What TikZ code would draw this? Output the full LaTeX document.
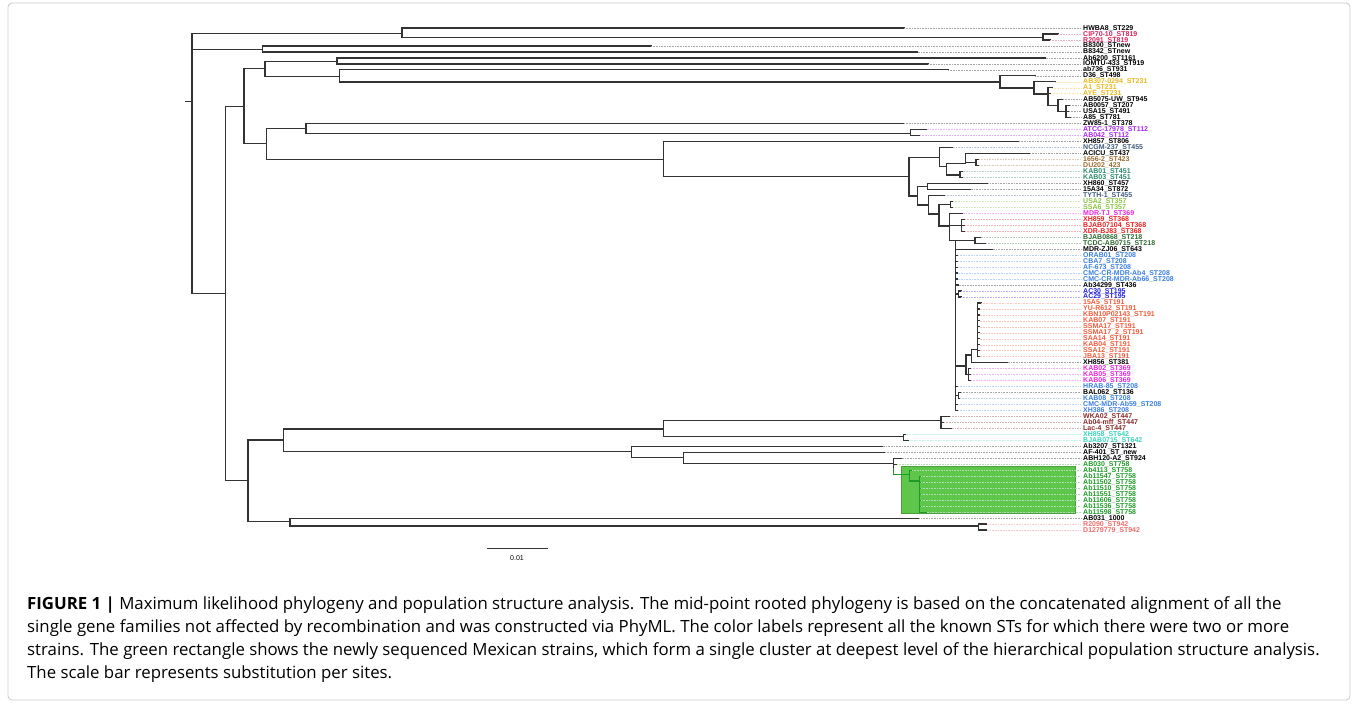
\documentclass[tikz,border=0pt]{standalone}
\usepackage{fontspec}
\setmainfont{Liberation Sans}
\newfontfamily\capfont{Open Sans}
\usetikzlibrary{positioning}
\definecolor{treeline}{HTML}{333333}
\definecolor{framegray}{HTML}{C8C8C8}
\definecolor{boxgreen}{HTML}{5EC64A}
\definecolor{stcrim}{HTML}{D8245C}
\definecolor{stgold}{HTML}{E8B81E}
\definecolor{stpurp}{HTML}{A825F0}
\definecolor{stslate}{HTML}{3F5B7C}
\definecolor{stbrown}{HTML}{9A6A2E}
\definecolor{stteal}{HTML}{2B8A68}
\definecolor{stlime}{HTML}{88C540}
\definecolor{stmag}{HTML}{EC22DC}
\definecolor{stred}{HTML}{EE1E1E}
\definecolor{stdkgrn}{HTML}{2E6A30}
\definecolor{stblue}{HTML}{3A7EE0}
\definecolor{stnavy}{HTML}{2222DD}
\definecolor{storange}{HTML}{F25A3A}
\definecolor{stmaroon}{HTML}{8C2A2A}
\definecolor{stturq}{HTML}{38D4BC}
\definecolor{stgreen}{HTML}{1E9A28}
\definecolor{stsalmon}{HTML}{EE6C6C}
\tikzset{
  branch/.style={draw=treeline, line width=1.2pt, line cap=rect},
  leader/.style={line width=0.5pt, dash pattern=on 0.8pt off 0.8pt, shorten >=2pt},
  taxon/.style={anchor=west, inner sep=0pt, font=\fontsize{7}{7}\selectfont\bfseries}}
% horizontal branch: from x, to x, at y
\newcommand{\hbr}[3]{\draw[branch] (#1,#3) -- (#2,#3);}
% vertical branch: at x, from y, to y
\newcommand{\vbr}[3]{\draw[branch] (#1,#2) -- (#1,#3);}
% leaf: name, y, parent x, tip x, colour, label
\newcommand{\leaf}[6]{%
  \node[taxon, text=#5] (#1) at (1083,#2) {#6};
  \draw[branch] (#3,#2) -- (#4,#2);
  \draw[leader, draw=#5!35!white] (#4,#2) -- (#1.west);}

\begin{document}
\begin{tikzpicture}[x=1pt,y=-1pt]
  \useasboundingbox (0,0) rectangle (1358,704);
  \draw[framegray, rounded corners=4pt, line width=0.8pt] (8,3) rectangle (1350,700);
  \fill[boxgreen, draw=boxgreen!80!black, line width=0.5pt] (901.7,466.7) rectangle (1075,513.5);

  \draw[branch] (185.7,101.7) -- (192,101.7);
  \vbr{192}{33.3}{293.3}
  \hbr{192}{402}{33.3}
  \vbr{402}{28}{37.3}
  \leaf{hwba}{28.0}{402}{904}{black}{HWBA8\_ST229}
  \hbr{402}{1043}{37.3}
  \vbr{1043}{34}{40}
  \leaf{cip}{34.0}{1043}{1058}{stcrim}{CIP70-10\_ST819}
  \leaf{rtwoone}{40.0}{1043}{1050}{stcrim}{R2091\_ST819}
  \hbr{192}{262.3}{49.3}
  \vbr{262.3}{45.9}{51.9}
  \leaf{bthree}{45.9}{262.3}{651}{black}{B8300\_STnew}
  \leaf{bfour}{51.9}{262.3}{917.7}{black}{B8342\_STnew}

  \hbr{192}{225.3}{293.3}
  \vbr{225.3}{106.7}{480.7}
  \hbr{225.3}{244}{106.7}
  \vbr{244}{68.7}{143.7}
  \hbr{244}{265}{68.7}
  \vbr{265}{61.7}{76.7}
  \hbr{265}{337}{61.7}
  \vbr{337}{57.9}{63.9}
  \leaf{absix}{57.9}{337}{1045.7}{black}{Ab6200\_ST1161}
  \leaf{iomtu}{63.9}{337}{928}{black}{IOMTU-433\_ST919}
  \hbr{265}{339.7}{76.7}
  \vbr{339.7}{69.8}{82}
  \leaf{abseven}{69.8}{339.7}{948}{black}{ab736\_ST931}
  \hbr{339.7}{1000}{82}
  \vbr{1000}{75.8}{88}
  \leaf{dthree}{75.8}{1000}{1035}{black}{D36\_ST498}
  \hbr{1000}{1034}{88}
  \vbr{1034}{81.8}{94}
  \leaf{abthree}{81.8}{1034}{1055}{stgold}{AB307-0294\_ST231}
  \hbr{1034}{1048}{94}
  \vbr{1048}{87.8}{105.3}
  \leaf{aone}{87.8}{1048}{1052}{stgold}{A1\_ST231}
  \leaf{aye}{93.7}{1048}{1051}{stgold}{AYE\_ST231}
  \hbr{1048}{1058}{105.3}
  \vbr{1058}{99.7}{111.7}
  \leaf{abfive}{99.7}{1058}{1063}{black}{AB5075-UW\_ST945}
  \hbr{1058}{1066}{111.7}
  \vbr{1066}{105.7}{117.6}
  \leaf{abzero}{105.7}{1066}{1070}{black}{AB0057\_ST207}
  \leaf{usa}{111.7}{1066}{1069}{black}{USA15\_ST491}
  \leaf{aeight}{117.6}{1066}{1071}{black}{A85\_ST781}

  \hbr{244}{266.7}{143.7}
  \vbr{266.7}{128.3}{159.3}
  \hbr{266.7}{306}{128.3}
  \vbr{306}{123.6}{133.3}
  \leaf{zw}{123.6}{306}{904}{black}{ZW85-1\_ST378}
  \hbr{306}{910.7}{133.3}
  \vbr{910.7}{129.6}{135.6}
  \leaf{atcc}{129.6}{910.7}{926.7}{stpurp}{ATCC-17978\_ST112}
  \leaf{abfour}{135.6}{910.7}{920}{stpurp}{AB042\_ST112}
  \hbr{266.7}{663.3}{159.3}
  \vbr{663.3}{141.6}{176.5}
  \leaf{xhfive}{141.6}{663.3}{1019}{black}{XH857\_ST806}
  \hbr{663.3}{909}{176.5}
  \vbr{909}{157.3}{196}
  \hbr{909}{939.3}{157.3}
  \vbr{939.3}{147.5}{166.3}
  \leaf{ncgm}{147.5}{939.3}{952.7}{stslate}{NCGM-237\_ST455}
  \hbr{939.3}{946.7}{166.3}
  \vbr{946.7}{163.3}{175}
  \hbr{946.7}{965.3}{163.3}
  \vbr{965.3}{153.5}{162.5}
  \leaf{acicu}{153.5}{965.3}{1030}{black}{ACICU\_ST437}
  \hbr{965.3}{976}{162.5}
  \vbr{976}{159.5}{165.5}
  \leaf{sixteen}{159.5}{976}{979}{stbrown}{1656-2\_ST423}
  \leaf{du}{165.5}{976}{979}{stbrown}{DU202\_423}
  \hbr{946.7}{960}{175}
  \vbr{960}{171.4}{177.4}
  \leaf{kabone}{171.4}{960}{962.5}{stteal}{KAB01\_ST451}
  \leaf{kabthree}{177.4}{960}{962.5}{stteal}{KAB03\_ST451}
  \hbr{909}{917.3}{196}
  \vbr{917.3}{186.4}{205}
  \hbr{917.3}{927.7}{186.4}
  \vbr{927.7}{183.4}{189.4}
  \leaf{xhsix}{183.4}{927.7}{988.3}{black}{XH860\_ST457}
  \leaf{fifteen}{189.4}{927.7}{970.7}{black}{15A34\_ST872}
  \hbr{917.3}{928.3}{205}
  \vbr{928.3}{195.3}{214}
  \leaf{tyth}{195.3}{928.3}{945}{stslate}{TYTH-1\_ST455}
  \hbr{928.3}{939}{214}
  \vbr{939}{204.3}{226}
  \hbr{939}{950.7}{204.3}
  \vbr{950.7}{201.3}{207.3}
  \leaf{usatwo}{201.3}{950.7}{953}{stlime}{USA2\_ST357}
  \leaf{ssasix}{207.3}{950.7}{953}{stlime}{SSA6\_ST357}
  \hbr{939}{949.3}{226}
  \vbr{949.3}{213.3}{240.2}
  \leaf{mdrtj}{213.3}{949.3}{962.7}{stmag}{MDR-TJ\_ST369}
  \hbr{949.3}{961.7}{225.2}
  \vbr{961.7}{219.2}{231.2}
  \leaf{xhnine}{219.2}{961.7}{965}{stred}{XH859\_ST368}
  \leaf{bjabseven}{225.2}{961.7}{965}{stred}{BJAB07104\_ST368}
  \leaf{xdr}{231.2}{961.7}{965}{stred}{XDR-BJ83\_ST368}
  \hbr{949.3}{955.7}{240.2}
  \vbr{955.7}{240.2}{410.5}
  \hbr{955.7}{975}{240.2}
  \vbr{975}{237.2}{243.2}
  \leaf{bjabeight}{237.2}{975}{980.7}{stdkgrn}{BJAB0868\_ST218}
  \leaf{tcdc}{243.2}{975}{986}{stdkgrn}{TCDC-AB0715\_ST218}
  \leaf{mdrzj}{249.1}{955.7}{992.7}{black}{MDR-ZJ06\_ST643}
  \leaf{orab}{255.1}{955.7}{958}{stblue}{ORAB01\_ST208}
  \leaf{cba}{261.1}{955.7}{958}{stblue}{CBA7\_ST208}
  \leaf{afsix}{267.1}{955.7}{958}{stblue}{AF-673\_ST208}
  \leaf{cmcfour}{273.0}{955.7}{957.5}{stblue}{CMC-CR-MDR-Ab4\_ST208}
  \leaf{cmcsix}{279.0}{955.7}{957.5}{stblue}{CMC-CR-MDR-Ab66\_ST208}
  \leaf{abthreefour}{285.0}{955.7}{958.5}{black}{Ab34299\_ST436}
  \hbr{955.7}{958.5}{294}
  \vbr{958.5}{291.0}{296.9}
  \leaf{acthirty}{291.0}{958.5}{961}{stnavy}{AC30\_ST195}
  \leaf{actwenty}{296.9}{958.5}{961}{stnavy}{AC29\_ST195}
  \hbr{955.7}{966}{366}
  \vbr{966}{355}{374.6}
  \hbr{966}{971.7}{355}
  \vbr{971.7}{349.3}{362.7}
  \hbr{971.7}{977.3}{349.3}
  \vbr{977.3}{302.9}{356.7}
  \leaf{fifteenfive}{302.9}{977.3}{981}{storange}{15A5\_ST191}
  \leaf{yur}{308.9}{977.3}{979.5}{storange}{YU-R612\_ST191}
  \leaf{kbn}{314.9}{977.3}{979.5}{storange}{KBN10P02143\_ST191}
  \leaf{kabseven}{320.8}{977.3}{979.5}{storange}{KAB07\_ST191}
  \leaf{ssma}{326.8}{977.3}{979.5}{storange}{SSMA17\_ST191}
  \leaf{ssmatwo}{332.8}{977.3}{979.5}{storange}{SSMA17\_2\_ST191}
  \leaf{saa}{338.8}{977.3}{979.5}{storange}{SAA14\_ST191}
  \leaf{kabfour}{344.8}{977.3}{979.5}{storange}{KAB04\_ST191}
  \leaf{ssa}{350.7}{977.3}{979.5}{storange}{SSA12\_ST191}
  \leaf{jba}{356.7}{977.3}{979.5}{storange}{JBA13\_ST191}
  \leaf{xhfivesix}{362.7}{971.7}{1007.7}{black}{XH856\_ST381}
  \hbr{966}{968.5}{374.6}
  \vbr{968.5}{368.7}{380.6}
  \leaf{kabtwo}{368.7}{968.5}{971}{stmag}{KAB02\_ST369}
  \leaf{kabfive}{374.6}{968.5}{971}{stmag}{KAB05\_ST369}
  \leaf{kabsix}{380.6}{968.5}{971}{stmag}{KAB06\_ST369}
  \leaf{hrab}{386.6}{955.7}{958}{stblue}{HRAB-85\_ST208}
  \hbr{955.7}{958.3}{395.5}
  \vbr{958.3}{392.6}{398.5}
  \leaf{bal}{392.6}{958.3}{961}{black}{BAL062\_ST136}
  \leaf{kabeight}{398.5}{958.3}{960}{stblue}{KAB08\_ST208}
  \leaf{cmcfive}{404.5}{955.7}{958}{stblue}{CMC-MDR-Ab59\_ST208}
  \leaf{xhthree}{410.5}{955.7}{958}{stblue}{XH386\_ST208}

  \hbr{225.3}{248}{480.7}
  \vbr{248}{440}{521.7}
  \hbr{248}{283.7}{440}
  \vbr{283.7}{429}{451.7}
  \hbr{283.7}{663.3}{429}
  \vbr{663.3}{420.3}{436.7}
  \hbr{663.3}{941}{420.3}
  \vbr{941}{416.5}{428.4}
  \leaf{wka}{416.5}{941}{950}{stmaroon}{WKA02\_ST447}
  \leaf{abzerofour}{422.4}{941}{944}{stmaroon}{Ab04-mff\_ST447}
  \leaf{lac}{428.4}{941}{951.7}{stmaroon}{Lac-4\_ST447}
  \hbr{663.3}{903.3}{436.7}
  \vbr{903.3}{434.4}{440.4}
  \leaf{xheight}{434.4}{903.3}{905.5}{stturq}{XH858\_ST642}
  \leaf{bjabfifteen}{440.4}{903.3}{909}{stturq}{BJAB0715\_ST642}
  \hbr{283.7}{631.7}{451.7}
  \vbr{631.7}{446.4}{457.7}
  \leaf{abthreetwo}{446.4}{631.7}{882.7}{black}{Ab3207\_ST1321}
  \hbr{631.7}{683.3}{457.7}
  \vbr{683.3}{452.3}{463.3}
  \leaf{affour}{452.3}{683.3}{885}{black}{AF-401\_ST\_new}
  \hbr{683.3}{893.3}{463.3}
  \vbr{893.3}{458.3}{469}
  \leaf{abh}{458.3}{893.3}{901.7}{black}{ABH120-A2\_ST924}
  \leaf{abthirty}{464.3}{893.3}{897}{stgreen}{AB030\_ST758}
  \begin{scope}[branch/.append style={draw=stgreen}]
    \draw[branch] (893.3,469) -- (893.3,474.3) -- (909.3,474.3);
    \vbr{909.3}{470.3}{481}
    \leaf{abfouroneone}{470.3}{909.3}{912}{stgreen}{Ab4113\_ST758}
    \hbr{909.3}{919.3}{481}
    \vbr{919.3}{476.2}{512.1}
    \leaf{abfoursev}{476.2}{919.3}{921}{stgreen}{Ab11547\_ST758}
    \leaf{abfivetwo}{482.2}{919.3}{921}{stgreen}{Ab11502\_ST758}
    \leaf{abfiveten}{488.2}{919.3}{921}{stgreen}{Ab11510\_ST758}
    \leaf{abfivefive}{494.2}{919.3}{921}{stgreen}{Ab11551\_ST758}
    \leaf{absixsix}{500.1}{919.3}{921}{stgreen}{Ab11606\_ST758}
    \leaf{abfivethree}{506.1}{919.3}{921}{stgreen}{Ab11536\_ST758}
    \leaf{abfivenine}{512.1}{919.3}{926.7}{stgreen}{Ab11598\_ST758}
  \end{scope}
  \hbr{248}{290}{521.7}
  \vbr{290}{518.1}{526}
  \leaf{abthirtyone}{518.1}{290}{919.3}{black}{AB031\_1000}
  \hbr{290}{978.3}{526}
  \vbr{978.3}{524.0}{530.0}
  \leaf{rtwozero}{524.0}{978.3}{986.7}{stsalmon}{R2090\_ST942}
  \leaf{dtwelve}{530.0}{978.3}{986.7}{stsalmon}{D1279779\_ST942}

  \draw[branch] (487.7,548.3) -- (547,548.3);
  \node[font=\fontsize{7}{7}\selectfont, inner sep=0pt] (scalelbl) at (517,558) {0.01};

  \node[anchor=north west, align=left, inner sep=0pt, font=\capfont\fontsize{16.8}{23}\selectfont] (caption) at (27,596)
    {\textbf{FIGURE 1 |} Maximum likelihood phylogeny and population structure analysis. The mid-point rooted phylogeny is based on the concatenated alignment of all the\\
     single gene families not affected by recombination and was constructed via PhyML. The color labels represent all the known STs for which there were two or more\\
     strains. The green rectangle shows the newly sequenced Mexican strains, which form a single cluster at deepest level of the hierarchical population structure analysis.\\
     The scale bar represents substitution per sites.};
\end{tikzpicture}
\end{document}
